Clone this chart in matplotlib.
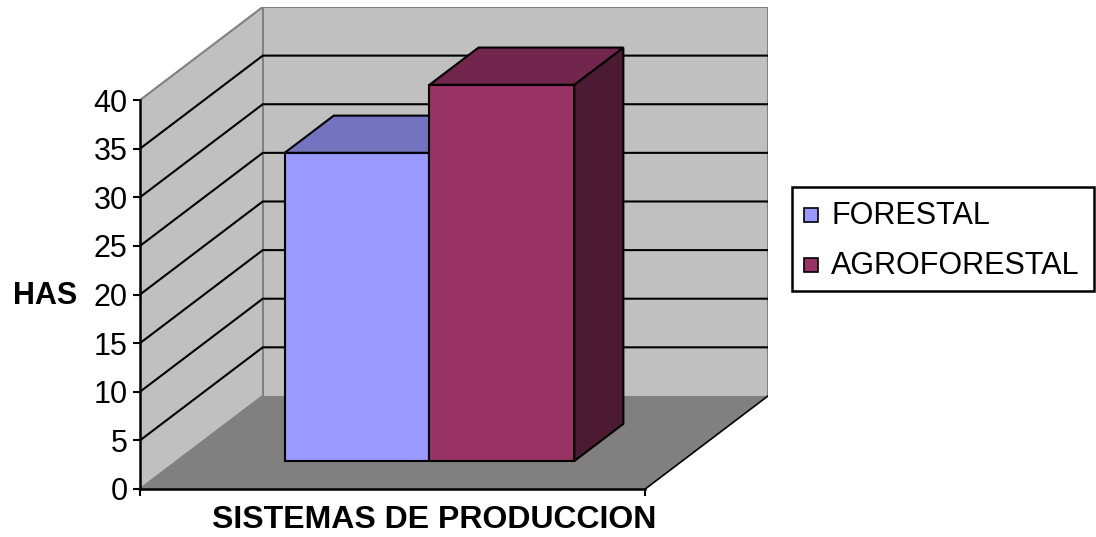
import matplotlib.pyplot as plt
from matplotlib.patches import Polygon, Rectangle

plt.rcParams['font.family'] = ['Liberation Sans', 'DejaVu Sans']

# data
series = ["FORESTAL", "AGROFORESTAL"]
values = [31.7, 38.7]
yticks = [0, 5, 10, 15, 20, 25, 30, 35, 40]
xlabel = "SISTEMAS DE PRODUCCION"
ylabel = "HAS"

front_colors = ["#9999FF", "#993366"]
top_colors = ["#7373BF", "#73264D"]
side_colors = ["#4D4D80", "#4D1A33"]

# oblique 3D look: one unit of depth shifts a point right / up (data units)
DX, DY = 0.243, 9.57
YMAX = 40
BAR_W = 0.2866
D0, D1 = 0.3, 0.7


def proj(x, v, d):
    return (x + d * DX, v + d * DY)


W, H = 1096, 537
fig = plt.figure(figsize=(W / 100, H / 100), dpi=100)
ax = fig.add_axes([140 / W, 48 / H, 628 / W, 482 / H])
ax.set_xlim(0, 1 + DX)
ax.set_ylim(0, YMAX + DY)

# walls and floor
left_wall = [proj(0, 0, 0), proj(0, 0, 1), proj(0, YMAX, 1), proj(0, YMAX, 0)]
back_wall = [proj(0, 0, 1), proj(1, 0, 1), proj(1, YMAX, 1), proj(0, YMAX, 1)]
floor = [proj(0, 0, 0), proj(1, 0, 0), proj(1, 0, 1), proj(0, 0, 1)]
ax.add_patch(Polygon(left_wall, closed=True, fc="#C0C0C0", ec="none", zorder=1))
ax.add_patch(Polygon(back_wall, closed=True, fc="#C0C0C0", ec="none", zorder=1))
ax.add_patch(Polygon(floor, closed=True, fc="#808080", ec="none", zorder=1))

# wall borders
border = [proj(0, YMAX, 0), proj(0, YMAX, 1), proj(1, YMAX, 1), proj(1, 0, 1)]
ax.plot(*zip(*border), color="#808080", lw=1.5, zorder=1.5)
ax.plot(*zip(proj(0, 0, 1), proj(0, YMAX, 1)), color="#808080", lw=1.5, zorder=1.5)
ax.plot(*zip(proj(0, 0, 0), proj(0, 0, 1)), color="#808080", lw=1.5, zorder=1.5)
ax.plot(*zip(proj(1, 0, 0), proj(1, 0, 1)), color="black", lw=1.2, zorder=1.5)

# gridlines on side and back wall
for v in yticks[1:-1]:
    pts = [proj(0, v, 0), proj(0, v, 1), proj(1, v, 1)]
    ax.plot(*zip(*pts), color="black", lw=1.5, zorder=1.6)

# bars
for i, (val, fc, tc, sc) in enumerate(zip(values, front_colors, top_colors, side_colors)):
    x0 = 0.5 - BAR_W + i * BAR_W
    x1 = x0 + BAR_W
    side = [proj(x1, 0, D0), proj(x1, 0, D1), proj(x1, val, D1), proj(x1, val, D0)]
    top = [proj(x0, val, D0), proj(x1, val, D0), proj(x1, val, D1), proj(x0, val, D1)]
    front = [proj(x0, 0, D0), proj(x1, 0, D0), proj(x1, val, D0), proj(x0, val, D0)]
    for poly, c in [(side, sc), (top, tc), (front, fc)]:
        ax.add_patch(Polygon(poly, closed=True, fc=c, ec="black", lw=1.5,
                             joinstyle="miter", zorder=3 + i))

# axes
for s in ["top", "right"]:
    ax.spines[s].set_visible(False)
ax.spines["left"].set_bounds(0, YMAX)
ax.spines["bottom"].set_bounds(0, 1)
ax.spines["left"].set_linewidth(1.8)
ax.spines["bottom"].set_linewidth(1.8)
ax.set_yticks(yticks)
ax.set_xticks([0, 1])
ax.set_xticklabels([])
ax.tick_params(axis="both", direction="out", length=5, width=1.5, pad=4)
ax.tick_params(axis="y", labelsize=22)
ax.patch.set_visible(False)

fig.text(434 / W, 1 - 528 / H, xlabel, ha="center", va="baseline",
         fontsize=23, fontweight="bold")
fig.text(45 / W, 1 - 304 / H, ylabel, ha="center", va="baseline",
         fontsize=22, fontweight="bold")

# legend box
fig.patches.append(Rectangle((792 / W, 1 - 291 / H), 302 / W, 104 / H,
                             transform=fig.transFigure, fc="white", ec="black", lw=1.8))
for name, fc, yc, base in zip(series, front_colors, [215, 265], [224, 274]):
    fig.patches.append(Rectangle((804 / W, 1 - (yc + 7) / H), 14 / W, 14 / H,
                                 transform=fig.transFigure, fc=fc, ec="black", lw=1.2))
    fig.text(831 / W, 1 - base / H, name, ha="left", va="baseline", fontsize=22)

fig.savefig("out.png", dpi=100)
